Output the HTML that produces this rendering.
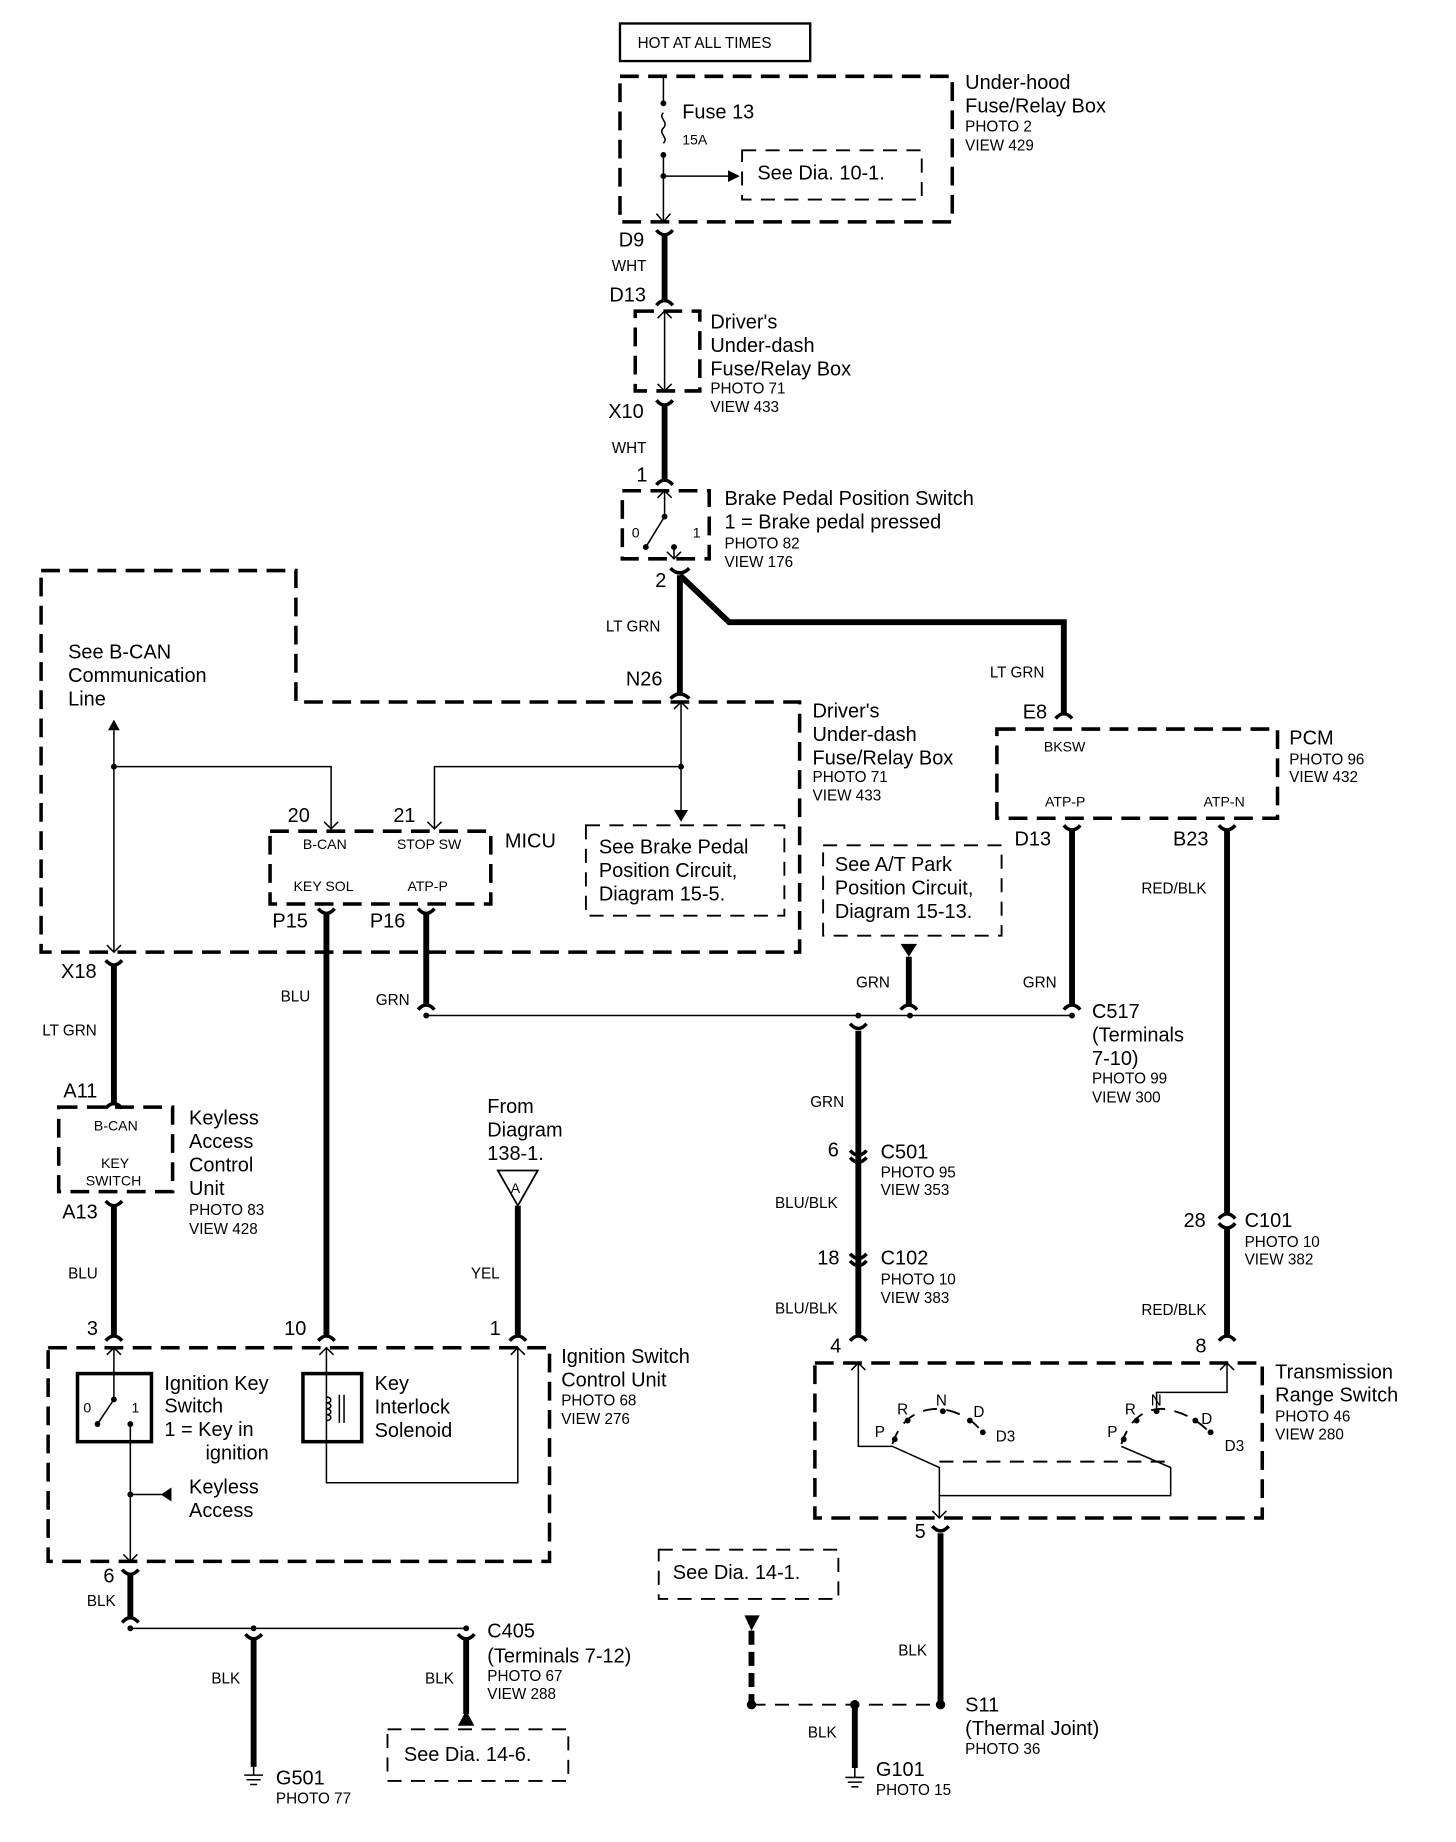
<!DOCTYPE html>
<html><head><meta charset="utf-8"><style>
html,body{margin:0;padding:0;background:#fff}
svg{display:block}
text{font-family:"Liberation Sans",Arial,sans-serif;fill:#000}
.b{font-size:17px}.s{font-size:13px}.x{font-size:12px}
.tk{stroke:#000;stroke-width:5;fill:none}
.tn{stroke:#000;stroke-width:1.3;fill:none}
.ds{stroke:#000;stroke-width:3;fill:none;stroke-dasharray:16 8}
.dl{stroke:#000;stroke-width:1.6;fill:none;stroke-dasharray:12 8}
.c{stroke:#000;stroke-width:3;fill:none}
</style></head><body>
<svg width="1456" height="1842" viewBox="0 0 1240 1569" preserveAspectRatio="none" xmlns="http://www.w3.org/2000/svg">
<rect width="1240" height="1569" fill="#fff"/>
<!-- top -->
<rect x="528" y="20" width="162" height="32" fill="none" stroke="#000" stroke-width="2"/>
<text x="543" y="41" class="s">HOT AT ALL TIMES</text>
<rect x="528" y="65" width="283" height="124" class="ds"/>
<text x="822" y="76" class="b">Under-hood</text><text x="822" y="96" class="b">Fuse/Relay Box</text>
<text x="822" y="112" class="s">PHOTO 2</text><text x="822" y="128" class="s">VIEW 429</text>
<path class="tn" d="M565 65V87M565 96c-5 4 5 8 0 13s5 8 0 13M565 132V189"/>
<circle cx="565" cy="88" r="2.5"/><circle cx="565" cy="132" r="2.5"/><circle cx="565" cy="150" r="2.5"/>
<path class="tn" d="M565 150H622"/><path d="M620 145L630 150L620 155Z"/>
<path class="tn" d="M559 182L565 189L571 182"/>
<text x="581" y="101" class="b">Fuse 13</text><text x="581" y="123" class="x">15A</text>
<rect x="632" y="128" width="153" height="42" class="dl"/>
<text x="645" y="153" class="b">See Dia. 10-1.</text>
<path class="tk" d="M566 200V255"/><path class="c" d="M559 196Q566 204 573 196M559 260Q566 252 573 260"/>
<text x="527" y="210" class="b">D9</text><text x="521" y="231" class="s">WHT</text><text x="519" y="257" class="b">D13</text>
<rect x="541" y="265" width="55" height="68" class="ds"/>
<path class="tn" d="M566 265V333M560 271L566 265L572 271M560 327L566 333L572 327"/>
<text x="605" y="280" class="b">Driver's</text><text x="605" y="300" class="b">Under-dash</text><text x="605" y="320" class="b">Fuse/Relay Box</text>
<text x="605" y="335" class="s">PHOTO 71</text><text x="605" y="351" class="s">VIEW 433</text>
<path class="tk" d="M566 345V408"/><path class="c" d="M559 341Q566 349 573 341M559 413Q566 405 573 413"/>
<text x="518" y="356" class="b">X10</text><text x="521" y="386" class="s">WHT</text><text x="542" y="410" class="b">1</text>
<rect x="530" y="418" width="74" height="58" class="ds"/>
<path class="tn" d="M566 418V440L550 466M560 424L566 418L572 424M574 466V476M568 470L574 476L580 470"/>
<circle cx="566" cy="440" r="2.5"/><circle cx="550" cy="466" r="2.5"/><circle cx="574" cy="466" r="2.5"/>
<text x="538" y="458" class="x">0</text><text x="590" y="458" class="x">1</text>
<text x="617" y="430" class="b">Brake Pedal Position Switch</text><text x="617" y="450" class="b">1 = Brake pedal pressed</text>
<text x="617" y="467" class="s">PHOTO 82</text><text x="617" y="483" class="s">VIEW 176</text>
<text x="558" y="500" class="b">2</text>
<path class="tk" d="M579 490V590M579 490L621 530H906V607"/>
<path class="c" d="M571 484Q579 492 587 484M571 595Q579 587 587 595M899 612Q906 604 913 612"/>
<text x="516" y="538" class="s">LT GRN</text><text x="533" y="584" class="b">N26</text>
<text x="843" y="577" class="s">LT GRN</text><text x="871" y="612" class="b">E8</text>
<!-- B-CAN region -->
<path class="ds" d="M35 486H252V598H681V811H35Z"/>
<text x="58" y="561" class="b">See B-CAN</text><text x="58" y="581" class="b">Communication</text><text x="58" y="601" class="b">Line</text>
<path class="tn" d="M97 622V811M91 805L97 811L103 805"/><path d="M92 622L97 613L102 622Z"/>
<circle cx="97" cy="653" r="2.5"/>
<path class="tn" d="M97 653H282V706M276 700L282 706L288 700"/>
<path class="tn" d="M580 598V692M574 604L580 598L586 604"/><path d="M574 690L580 700L586 690Z"/>
<circle cx="580" cy="653" r="2.5"/>
<path class="tn" d="M580 653H370V706M364 700L370 706L376 700"/>
<rect x="230" y="708" width="188" height="62" class="ds"/>
<text x="245" y="700" class="b">20</text><text x="335" y="700" class="b">21</text><text x="430" y="722" class="b">MICU</text>
<text x="258" y="723" class="x">B-CAN</text><text x="338" y="723" class="x">STOP SW</text>
<text x="250" y="759" class="x">KEY SOL</text><text x="347" y="759" class="x">ATP-P</text>
<text x="232" y="790" class="b">P15</text><text x="315" y="790" class="b">P16</text>
<path class="tk" d="M278 778V1137M363 778V855"/>
<path class="c" d="M271 774Q278 782 285 774M356 774Q363 782 370 774M356 860Q363 852 370 860M271 1142Q278 1134 285 1142"/>
<rect x="499" y="703" width="169" height="77" class="dl"/>
<text x="510" y="727" class="b">See Brake Pedal</text><text x="510" y="747" class="b">Position  Circuit,</text><text x="510" y="767" class="b">Diagram 15-5.</text>
<text x="692" y="611" class="b">Driver's</text><text x="692" y="631" class="b">Under-dash</text><text x="692" y="651" class="b">Fuse/Relay Box</text>
<text x="692" y="666" class="s">PHOTO 71</text><text x="692" y="682" class="s">VIEW 433</text>
<!-- PCM -->
<rect x="849" y="621" width="239" height="76" class="ds"/>
<text x="889" y="640" class="x">BKSW</text><text x="890" y="687" class="x">ATP-P</text><text x="1025" y="687" class="x">ATP-N</text>
<text x="1098" y="634" class="b">PCM</text><text x="1098" y="651" class="s">PHOTO 96</text><text x="1098" y="666" class="s">VIEW 432</text>
<text x="864" y="720" class="b">D13</text><text x="999" y="720" class="b">B23</text>
<path class="tk" d="M913 707V855M1045 707V1033"/>
<path class="c" d="M906 703Q913 711 920 703M1038 703Q1045 711 1052 703M906 860Q913 852 920 860M1038 1038Q1045 1030 1052 1038M1038 1042Q1045 1050 1052 1042M1038 1142Q1045 1134 1052 1142"/>
<path class="tk" d="M1045 1047V1137"/>
<text x="972" y="761" class="s">RED/BLK</text>
<rect x="701" y="720" width="152" height="77" class="dl"/>
<text x="711" y="742" class="b">See A/T Park</text><text x="711" y="762" class="b">Position Circuit,</text><text x="711" y="782" class="b">Diagram 15-13.</text>
<path d="M767 804H781L774 815Z"/><path class="tk" d="M774 815V855"/><path class="c" d="M767 860Q774 852 781 860"/>
<text x="729" y="841" class="s">GRN</text><text x="871" y="841" class="s">GRN</text><text x="320" y="856" class="s">GRN</text><text x="239" y="853" class="s">BLU</text>
<path class="tn" d="M363 865H913"/>
<circle cx="363" cy="865" r="2.5"/><circle cx="731" cy="865" r="2.5"/><circle cx="775" cy="865" r="2.5"/><circle cx="913" cy="865" r="2.5"/>
<text x="930" y="867" class="b">C517</text><text x="930" y="887" class="b">(Terminals</text><text x="930" y="907" class="b">7-10)</text>
<text x="930" y="923" class="s">PHOTO 99</text><text x="930" y="939" class="s">VIEW 300</text>
<path class="tk" d="M731 878V1137"/>
<path class="c" d="M724 872Q731 880 738 872M724 980Q731 988 738 980M724 986Q731 994 738 986M724 1068Q731 1076 738 1068M724 1074Q731 1082 738 1074M724 1142Q731 1134 738 1142"/>
<text x="690" y="943" class="s">GRN</text><text x="705" y="985" class="b">6</text>
<text x="750" y="987" class="b">C501</text><text x="750" y="1003" class="s">PHOTO 95</text><text x="750" y="1018" class="s">VIEW 353</text>
<text x="660" y="1029" class="s">BLU/BLK</text><text x="696" y="1077" class="b">18</text>
<text x="750" y="1077" class="b">C102</text><text x="750" y="1094" class="s">PHOTO 10</text><text x="750" y="1110" class="s">VIEW 383</text>
<text x="660" y="1119" class="s">BLU/BLK</text><text x="707" y="1152" class="b">4</text>
<text x="1008" y="1045" class="b">28</text><text x="1060" y="1045" class="b">C101</text><text x="1060" y="1062" class="s">PHOTO 10</text><text x="1060" y="1077" class="s">VIEW 382</text>
<text x="972" y="1120" class="s">RED/BLK</text><text x="1018" y="1152" class="b">8</text>
<!-- transmission -->
<rect x="694" y="1161" width="381" height="132" class="ds"/>
<text x="1086" y="1174" class="b">Transmission</text><text x="1086" y="1194" class="b">Range Switch</text>
<text x="1086" y="1211" class="s">PHOTO 46</text><text x="1086" y="1226" class="s">VIEW 280</text>
<path class="tn" d="M731 1161V1232H760L800 1250V1293M725 1167L731 1161L737 1167M794 1287L800 1293L806 1287"/>
<path class="tn" d="M1045 1161V1186H985V1200M1039 1167L1045 1161L1051 1167"/>
<path class="dl" d="M760 1230Q770 1200 800 1200Q825 1203 838 1222M955 1230Q965 1200 990 1200Q1015 1203 1032 1222"/>
<circle cx="762" cy="1226" r="2.5"/><circle cx="773" cy="1210" r="2.5"/><circle cx="803" cy="1202" r="2.5"/><circle cx="826" cy="1210" r="2.5"/><circle cx="837" cy="1220" r="2.5"/>
<circle cx="957" cy="1226" r="2.5"/><circle cx="968" cy="1210" r="2.5"/><circle cx="985" cy="1202" r="2.5"/><circle cx="1018" cy="1210" r="2.5"/><circle cx="1031" cy="1220" r="2.5"/>
<path class="tn" d="M955 1232L997 1250V1274H800"/>
<path class="dl" d="M800 1245H997"/>
<text x="745" y="1224" class="s">P</text><text x="764" y="1205" class="s">R</text><text x="797" y="1197" class="s">N</text><text x="829" y="1207" class="s">D</text><text x="848" y="1228" class="s">D3</text>
<text x="943" y="1224" class="s">P</text><text x="958" y="1205" class="s">R</text><text x="980" y="1197" class="s">N</text><text x="1023" y="1213" class="s">D</text><text x="1043" y="1236" class="s">D3</text>
<text x="779" y="1310" class="b">5</text>
<path class="tk" d="M801 1306V1452"/><path class="c" d="M794 1300Q801 1308 808 1300"/>
<text x="765" y="1410" class="s">BLK</text>
<text x="822" y="1458" class="b">S11</text><text x="822" y="1478" class="b">(Thermal Joint)</text><text x="822" y="1494" class="s">PHOTO 36</text>
<rect x="561" y="1320" width="153" height="42" class="dl"/><text x="573" y="1345" class="b">See Dia. 14-1.</text>
<path d="M634 1376H647L640 1389Z"/><path class="tk" d="M640 1389V1452" stroke-dasharray="12 6"/>
<path class="dl" d="M640 1452H801"/>
<circle cx="640" cy="1452" r="4"/><circle cx="728" cy="1452" r="4"/><circle cx="801" cy="1452" r="4"/>
<path class="tk" d="M728 1452V1506"/>
<text x="688" y="1480" class="s">BLK</text>
<path class="tn" d="M728 1506V1514M720 1514H736M722 1518H734M725 1522H731"/>
<text x="746" y="1513" class="b">G101</text><text x="746" y="1529" class="s">PHOTO 15</text>
<!-- left -->
<text x="52" y="833" class="b">X18</text>
<path class="tk" d="M97 822V940"/><path class="c" d="M90 818Q97 826 104 818M90 944Q97 936 104 944"/>
<text x="36" y="882" class="s">LT GRN</text><text x="54" y="935" class="b">A11</text>
<rect x="50" y="943" width="97" height="72" class="ds"/>
<text x="80" y="963" class="x">B-CAN</text><text x="86" y="995" class="x">KEY</text><text x="73" y="1010" class="x">SWITCH</text>
<text x="161" y="958" class="b">Keyless</text><text x="161" y="978" class="b">Access</text><text x="161" y="998" class="b">Control</text><text x="161" y="1018" class="b">Unit</text>
<text x="161" y="1035" class="s">PHOTO 83</text><text x="161" y="1051" class="s">VIEW 428</text>
<text x="53" y="1038" class="b">A13</text>
<path class="tk" d="M97 1027V1137"/><path class="c" d="M90 1023Q97 1031 104 1023M90 1142Q97 1134 104 1142"/>
<text x="58" y="1089" class="s">BLU</text><text x="74" y="1137" class="b">3</text>
<text x="415" y="948" class="b">From</text><text x="415" y="968" class="b">Diagram</text><text x="415" y="988" class="b">138-1.</text>
<path d="M424 997H458L441 1027Z" fill="none" stroke="#000" stroke-width="1.5"/><text x="435" y="1016" class="x">A</text>
<path class="tk" d="M441 1027V1137"/><path class="c" d="M434 1142Q441 1134 448 1142"/>
<text x="401" y="1089" class="s">YEL</text><text x="417" y="1137" class="b">1</text><text x="242" y="1137" class="b">10</text>
<rect x="41" y="1148" width="427" height="182" class="ds"/>
<text x="478" y="1161" class="b">Ignition Switch</text><text x="478" y="1181" class="b">Control Unit</text>
<text x="478" y="1197" class="s">PHOTO 68</text><text x="478" y="1213" class="s">VIEW 276</text>
<rect x="66" y="1170" width="63" height="58" fill="none" stroke="#000" stroke-width="3"/>
<path class="tn" d="M97 1148V1192L83 1213M91 1154L97 1148L103 1154M111 1213V1330M105 1324L111 1330L117 1324"/>
<circle cx="97" cy="1192" r="2.5"/><circle cx="83" cy="1213" r="2.5"/><circle cx="111" cy="1213" r="2.5"/>
<text x="71" y="1203" class="x">0</text><text x="112" y="1203" class="x">1</text>
<text x="140" y="1184" class="b">Ignition Key</text><text x="140" y="1203" class="b">Switch</text><text x="140" y="1223" class="b">1 =  Key in</text><text x="175" y="1243" class="b">ignition</text>
<rect x="258" y="1170" width="50" height="58" fill="none" stroke="#000" stroke-width="3"/>
<path class="tn" d="M278 1148V1263H441V1148M272 1154L278 1148L284 1154M435 1154L441 1148L447 1154M289 1188V1212M293 1188V1212"/>
<path class="tn" d="M278 1190c5 0 5 5 0 5c5 0 5 5 0 5c5 0 5 5 0 5c5 0 5 5 0 5"/>
<text x="319" y="1184" class="b">Key</text><text x="319" y="1204" class="b">Interlock</text><text x="319" y="1224" class="b">Solenoid</text>
<circle cx="111" cy="1273" r="2.5"/><path class="tn" d="M111 1273H138"/><path d="M137 1273L146 1267V1279Z"/>
<text x="161" y="1272" class="b">Keyless</text><text x="161" y="1292" class="b">Access</text>
<text x="88" y="1348" class="b">6</text>
<path class="tk" d="M111 1342V1378"/><path class="c" d="M104 1337Q111 1345 118 1337M104 1382Q111 1374 118 1382"/>
<text x="74" y="1368" class="s">BLK</text>
<path class="tn" d="M111 1387H397"/><circle cx="111" cy="1387" r="2.5"/><circle cx="216" cy="1387" r="2.5"/><circle cx="397" cy="1387" r="2.5"/>
<path class="tk" d="M216 1397V1505M397 1397V1460"/><path class="c" d="M209 1392Q216 1400 223 1392M390 1392Q397 1400 404 1392"/>
<path d="M390 1470H404L397 1457Z"/>
<text x="180" y="1434" class="s">BLK</text><text x="362" y="1434" class="s">BLK</text>
<text x="415" y="1395" class="b">C405</text><text x="415" y="1416" class="b">(Terminals 7-12)</text><text x="415" y="1432" class="s">PHOTO 67</text><text x="415" y="1447" class="s">VIEW 288</text>
<rect x="330" y="1473" width="154" height="44" class="dl"/><text x="344" y="1500" class="b">See Dia. 14-6.</text>
<path class="tn" d="M216 1505V1512M208 1512H224M210 1516H222M213 1520H219"/>
<text x="235" y="1520" class="b">G501</text><text x="235" y="1536" class="s">PHOTO 77</text>
</svg>
</body></html>
